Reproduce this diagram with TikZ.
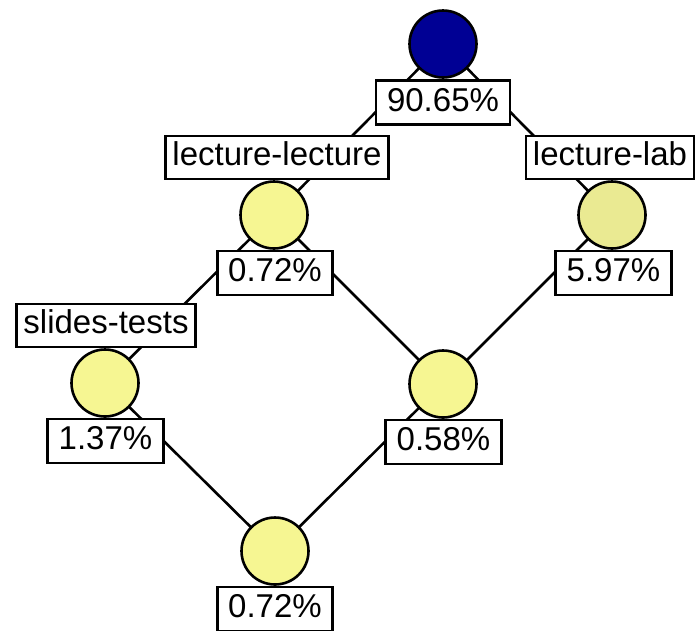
\documentclass[tikz,border=0pt]{standalone}
\usepackage{fontspec}
\setmainfont{Liberation Sans}
\usetikzlibrary{backgrounds}
\definecolor{topblue}{RGB}{0,0,148}
\definecolor{lightyel}{RGB}{246,246,146}
\definecolor{midyel}{RGB}{234,234,146}
\begin{document}
\begin{tikzpicture}[x=1pt,y=-1pt,
  circ/.style={circle,draw=black,line width=2.6pt,minimum size=67pt,inner sep=0pt},
  labbox/.style={draw=black,fill=white,line width=2.6pt,inner xsep=7pt,inner ysep=0pt,
    minimum height=43pt,text height=24pt,text depth=7pt,font=\fontsize{33}{40}\selectfont},
  pctbox/.style={labbox,inner xsep=11pt,minimum height=44pt},
  edge/.style={line width=2.6pt,black}]
\useasboundingbox (0,0) rectangle (700,630);
\node[circ,fill=topblue] (top) at (443,44) {};
\node[circ,fill=lightyel] (ll) at (274,215) {};
\node[circ,fill=midyel] (lab) at (612,215) {};
\node[circ,fill=lightyel] (mid) at (443,384) {};
\node[circ,fill=lightyel] (st) at (105,383) {};
\node[circ,fill=lightyel] (bot) at (275,551) {};
\begin{scope}[on background layer]
\draw[edge] (top.center) -- (ll.center);
\draw[edge] (top.center) -- (lab.center);
\draw[edge] (ll.center) -- (st.center);
\draw[edge] (ll.center) -- (mid.center);
\draw[edge] (lab.center) -- (mid.center);
\draw[edge] (st.center) -- (bot.center);
\draw[edge] (mid.center) -- (bot.center);
\end{scope}
\node[pctbox,anchor=north] (topp) at ([yshift=-0.5pt]top.south) {90.65\%};
\node[labbox,anchor=south] (lln) at ([xshift=3pt]ll.north) {lecture-lecture};
\node[pctbox,anchor=north] (llp) at ([xshift=1pt]ll.south) {0.72\%};
\node[labbox,anchor=south] (labn) at ([xshift=-2pt]lab.north) {lecture-lab};
\node[pctbox,anchor=north] (labp) at ([xshift=1.5pt]lab.south) {5.97\%};
\node[pctbox,anchor=north] (midp) at ([xshift=0.5pt]mid.south) {0.58\%};
\node[labbox,anchor=south] (stn) at ([xshift=1pt]st.north) {slides-tests};
\node[pctbox,anchor=north] (stp) at ([xshift=0.5pt]st.south) {1.37\%};
\node[pctbox,anchor=north] (botp) at (bot.south) {0.72\%};
\end{tikzpicture}
\end{document}
